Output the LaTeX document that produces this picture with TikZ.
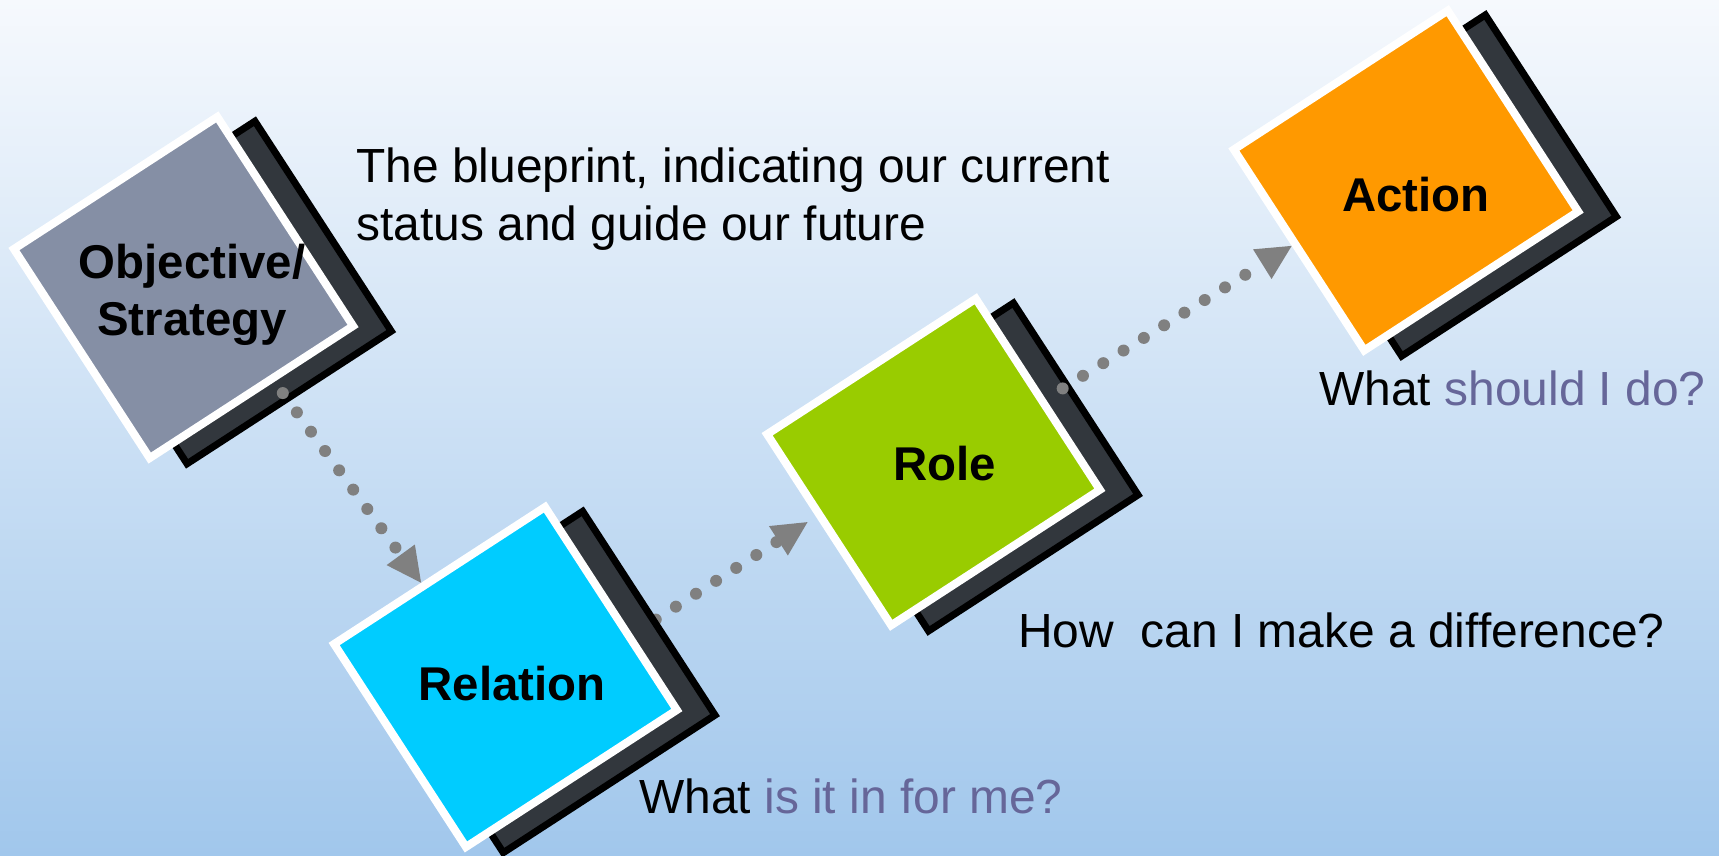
\documentclass[tikz,border=0pt]{standalone}
\usepackage{fontspec}
\setmainfont{Liberation Sans}
\usetikzlibrary{arrows.meta,calc}
\pgfdeclarelayer{bg}
\pgfsetlayers{bg,main}
\definecolor{bgtop}{RGB}{246,249,253}
\definecolor{bgbot}{RGB}{161,199,236}
\definecolor{objfill}{RGB}{133,143,165}
\definecolor{relfill}{RGB}{0,204,255}
\definecolor{rolefill}{RGB}{153,204,0}
\definecolor{actfill}{RGB}{255,153,0}
\definecolor{shadowfill}{RGB}{50,55,61}
\definecolor{dotgray}{RGB}{128,128,128}
\definecolor{txtpurple}{RGB}{102,102,153}
\begin{document}
\begin{tikzpicture}[x=0.5pt,y=-0.5pt,
  box/.style={rectangle, draw=white, line width=4pt, inner sep=0pt, rotate=33},
  shadowbox/.style={rectangle, draw=black, fill=shadowfill, line width=3.5pt, inner sep=0pt, rotate=33},
  conn/.style={draw=dotgray, line width=6pt, line cap=round, dash pattern=on 0pt off 11.95pt,
    -{Triangle[length=17.3pt,width=17.5pt,line width=0pt]}},
  boxlabel/.style={font=\fontsize{23.7pt}{28.4pt}\selectfont\bfseries, inner sep=0pt, text=black},
  bodytext/.style={font=\fontsize{23.95pt}{28.65pt}\selectfont, inner sep=0pt, text=black}
]
\begin{pgfonlayer}{bg}
\shade[top color=bgtop, bottom color=bgbot] (0,0) rectangle (1719,856);
\end{pgfonlayer}
\useasboundingbox (0,0) rectangle (1719,856);

% shadows
\node[shadowbox, minimum width=121.75pt, minimum height=125.15pt] (objsh) at (221,292.5) {};
\node[shadowbox, minimum width=126.25pt, minimum height=121.5pt] (relsh) at (543,682) {};
\node[shadowbox, minimum width=124.9pt, minimum height=114.4pt] (rolesh) at (971,467) {};
\node[shadowbox, minimum width=128pt, minimum height=120.25pt] (actsh) at (1443.5,185.5) {};

% boxes
\node[box, fill=objfill, minimum width=121.25pt, minimum height=124.65pt] (obj) at (183.5,287.5) {};
\node[box, fill=relfill, minimum width=125.75pt, minimum height=121pt] (rel) at (505.5,677) {};
\node[box, fill=rolefill, minimum width=124.4pt, minimum height=113.9pt] (role) at (933.5,462) {};
\node[box, fill=actfill, minimum width=127.5pt, minimum height=119.75pt] (action) at (1406,180.5) {};

% labels
\node[boxlabel, anchor=north, align=center] (objlabel) at (192,244) {Objective/\\Strategy};
\node[boxlabel, anchor=base] (rellabel) at (512,700.7) {Relation};
\node[boxlabel, anchor=base] (rolelabel) at (944.5,480) {Role};
\node[boxlabel, anchor=base] (actlabel) at (1415.8,211.7) {Action};

% connectors
\draw[conn, shorten <=7pt] ($(obj.south east)!0.40!(obj.south west)$) -- ($(rel.north west)!0.425!(rel.north east)$);
\begin{pgfonlayer}{bg}
\draw[conn, shorten >=5pt] ($(rel.north east)!0.62!(rel.south east)+(5,1)$) -- ($(role.north west)!0.423!(role.south west)$);
\end{pgfonlayer}
\draw[conn, shorten <=10pt] ($(role.north east)!0.535!(role.south east)$) -- ($(action.north west)!0.47!(action.south west)$);

% texts
\node[bodytext, anchor=north west, align=left] (blueprint) at (356,147.6) {The blueprint, indicating our current\\status and guide our future};
\node[bodytext, anchor=base west] (qaction) at (1319,405) {What \textcolor{txtpurple}{should I do?}};
\node[bodytext, anchor=base west] (qrole) at (1018,647) {How\ \ can I make a difference?};
\node[bodytext, anchor=base west] (qrel) at (639,813) {What \textcolor{txtpurple}{is it in for me?}};
\end{tikzpicture}
\end{document}
